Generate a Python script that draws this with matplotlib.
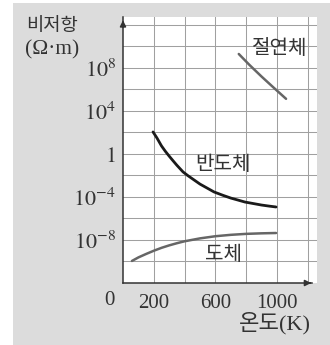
import matplotlib
matplotlib.use("Agg")
import matplotlib.pyplot as plt
from matplotlib.patches import Rectangle

# ---- data ----
ins_T = [752, 820, 900, 980, 1059]
ins_log = [9.3, 8.3, 7.2, 6.15, 5.13]
semi_T = [195, 220, 250, 275, 300, 325, 350, 390, 420, 450, 500, 550, 591, 650, 700, 750, 792, 850, 900, 950, 994]
semi_log = [2.05, 1.5, 0.75, 0.25, -0.2, -0.63, -1.05, -1.67, -2.0, -2.3, -2.8, -3.2, -3.53, -3.85, -4.1, -4.3, -4.47, -4.62, -4.75, -4.85, -4.93]
cond_T = [58, 100, 150, 200, 250, 300, 350, 400, 500, 600, 700, 800, 900, 994]
cond_log = [-9.95, -9.62, -9.3, -9.0, -8.73, -8.5, -8.3, -8.12, -7.85, -7.65, -7.52, -7.43, -7.38, -7.35]

xgrid = [200, 400, 600, 800, 1000, 1200]
xlabels = ['200', '', '600', '', '1000', '']
yexp_grid = [-10, -8, -6, -4, -2, 0, 2, 4, 6, 8, 10, 12]
ylabel_map = {8: r'$10^{8}$', 4: r'$10^{4}$', 0: r'$1$', -4: r'$10^{-4}$', -8: r'$10^{-8}$'}

plt.rcParams['mathtext.fontset'] = 'stix'
kfam = ['Liberation Serif', 'Noto Sans CJK KR', 'DejaVu Sans']
hfam = ['Noto Sans CJK KR', 'DejaVu Sans']

W, H = 330, 345
fig = plt.figure(figsize=(W/100, H/100), dpi=100)
fig.patch.set_facecolor('white')
fig.patches.append(Rectangle((13/W, 0), 1 - 13/W, 1 - 3/H, transform=fig.transFigure,
                             facecolor='#dcdcdc', edgecolor='none', zorder=-10))

ax = fig.add_axes([123/W, 62/H, 194/W, 266/H])
ax.set_facecolor('white')
ax.set_yscale('log')
ax.set_xlim(0, 1260)
ax.set_ylim(1e-12, 10**12.74)

ax.set_xticks(xgrid)
ax.set_xticklabels(xlabels, fontfamily='Liberation Serif', fontsize=15, color='#333333')
ax.set_yticks([10.0**e for e in yexp_grid])
ax.set_yticklabels([ylabel_map.get(e, '') for e in yexp_grid], fontsize=16, color='#333333')
ax.yaxis.set_minor_locator(matplotlib.ticker.NullLocator())
ax.tick_params(length=0)
ax.tick_params(axis='x', pad=8)
ax.tick_params(axis='y', pad=5)
ax.grid(True, color='#a0a0a0', linewidth=0.75)
ax.set_axisbelow(True)
for s in ['top', 'right']:
    ax.spines[s].set_visible(False)
for s in ['left', 'bottom']:
    ax.spines[s].set_color('#333333')
    ax.spines[s].set_linewidth(1.1)
ax.spines['bottom'].set_bounds(0, 1230)

# arrows
ax.annotate('', xy=(1240, 1e-12), xytext=(1195, 1e-12),
            arrowprops=dict(arrowstyle='-|>', color='#333333', lw=1.1, mutation_scale=9),
            annotation_clip=False)
ax.annotate('', xy=(0, 10**12.7), xytext=(0, 10**11.5),
            arrowprops=dict(arrowstyle='-|>', color='#333333', lw=1.1, mutation_scale=9),
            annotation_clip=False)

ax.plot(ins_T, [10.0**v for v in ins_log], color='#666666', lw=1.8, solid_capstyle='round')
ax.plot(semi_T, [10.0**v for v in semi_log], color='#1a1a1a', lw=2.0, solid_capstyle='round')
ax.plot(cond_T, [10.0**v for v in cond_log], color='#666666', lw=1.8, solid_capstyle='round')

# labels
ax.text(-85, 10**(-12 - 17/10.75), '0', fontfamily='Liberation Serif', fontsize=15,
        color='#333333', ha='center', va='center', clip_on=False)
fig.text(52/W, 1 - 26/H, '비저항', fontfamily=hfam, fontsize=13.5, color='#333333',
         ha='center', va='center')
fig.text(52/W, 1 - 50/H, '(Ω·m)', fontfamily=kfam, fontsize=15.5, color='#333333',
         ha='center', va='center')
fig.text(280/W, 1 - 48/H, '절연체', fontfamily=hfam, fontsize=14.5, color='#333333',
         ha='center', va='center')
fig.text(223/W, 1 - 164/H, '반도체', fontfamily=hfam, fontsize=14.5, color='#333333',
         ha='center', va='center')
fig.text(224/W, 1 - 254/H, '도체', fontfamily=hfam, fontsize=14.5, color='#333333',
         ha='center', va='center')
fig.text(275/W, 1 - 323/H, '온도(K)', fontfamily=kfam, fontsize=16, color='#333333',
         ha='center', va='center')

fig.savefig('out.png', dpi=100)
